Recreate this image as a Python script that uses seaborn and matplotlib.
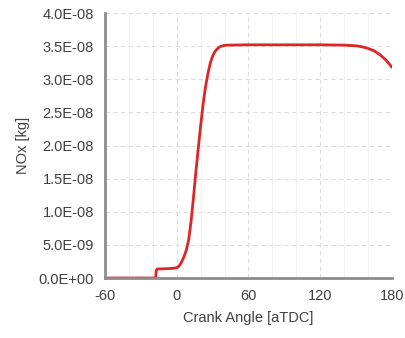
import numpy as np
import pandas as pd
import seaborn as sns
import matplotlib
matplotlib.use("Agg")
import matplotlib.pyplot as plt
from matplotlib.ticker import FuncFormatter, MultipleLocator

# Data
crank_angle = [-60, -30, -17.6, -17.2, -16.5, -10, -4, 0, 2, 4, 6, 8, 10, 12, 14,
               16, 18, 20, 22, 24, 26, 28, 30, 32, 34, 36, 38, 42, 60, 90, 120,
               140, 150, 155, 160, 165, 170, 175, 180]
nox_kg = [0.0, 0.0, 0.0, 1.1e-9, 1.35e-9, 1.4e-9, 1.45e-9, 1.55e-9, 1.8e-9, 2.4e-9,
          3.2e-9, 4.2e-9, 5.8e-9, 8.6e-9, 1.22e-8, 1.6e-8, 1.96e-8, 2.3e-8, 2.62e-8,
          2.88e-8, 3.08e-8, 3.24e-8, 3.35e-8, 3.42e-8, 3.46e-8, 3.49e-8, 3.505e-8,
          3.515e-8, 3.52e-8, 3.52e-8, 3.52e-8, 3.515e-8, 3.505e-8, 3.49e-8, 3.465e-8,
          3.43e-8, 3.37e-8, 3.29e-8, 3.18e-8]
x_ticks = [-60, 0, 60, 120, 180]
y_ticks = [0, 5e-9, 1e-8, 1.5e-8, 2e-8, 2.5e-8, 3e-8, 3.5e-8, 4e-8]

df = pd.DataFrame({"Crank Angle": crank_angle, "NOx": nox_kg})

sns.set_theme(style="white")
plt.rcParams["font.family"] = ["Liberation Sans", "DejaVu Sans"]
plt.rcParams["axes.unicode_minus"] = False

fig = plt.figure(figsize=(4.06, 3.38), dpi=100)
ax = fig.add_axes([0.2586, 0.1775, 0.7069, 0.784])

sns.lineplot(data=df, x="Crank Angle", y="NOx", ax=ax, color="#dc2626",
             linewidth=2.0, estimator=None, sort=False)

ax.set_xlim(-60, 180)
ax.set_ylim(0, 4e-8)
ax.set_xticks(x_ticks)
ax.set_yticks(y_ticks)
ax.xaxis.set_minor_locator(MultipleLocator(20))


def sci(v, pos):
    if v == 0:
        return "0.0E+00"
    e = int(np.floor(np.log10(abs(v))))
    m = v / 10 ** e
    return f"{m:.1f}E-{abs(e):02d}" if e < 0 else f"{m:.1f}E+{e:02d}"


ax.yaxis.set_major_formatter(FuncFormatter(sci))

ax.grid(True, which="major", axis="both", color="#dddddd", linestyle=(0, (4, 3)),
        linewidth=0.8)
ax.grid(True, which="minor", axis="x", color="#f3f3f3", linestyle="-", linewidth=0.8)
ax.set_axisbelow(True)

for s in ["top", "right"]:
    ax.spines[s].set_visible(False)
for s in ["left", "bottom"]:
    ax.spines[s].set_color("#8c8c8c")
    ax.spines[s].set_linewidth(2.0)

ax.tick_params(axis="both", which="both", length=0, labelsize=10.5,
               colors="#404040", pad=8)
ax.set_xlabel("Crank Angle [aTDC]", fontsize=10.5, color="#404040", labelpad=6)
ax.set_ylabel("NOx [kg]", fontsize=10.5, color="#404040", labelpad=6)

fig.savefig("out.png", dpi=100)
